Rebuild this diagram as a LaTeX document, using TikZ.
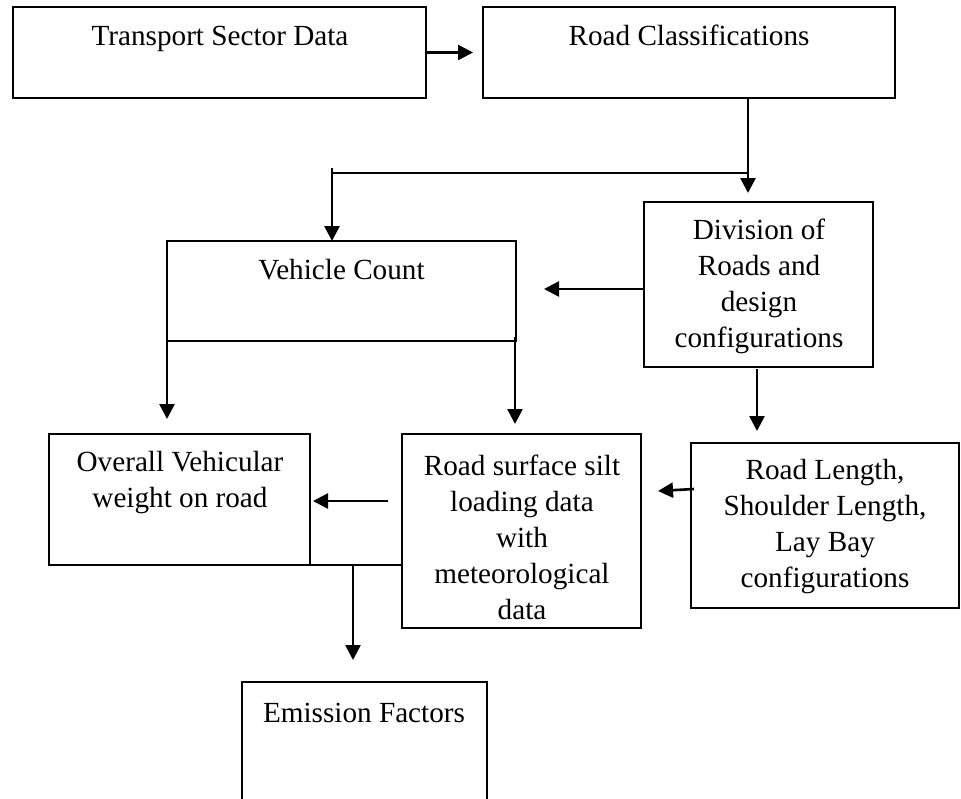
\documentclass[tikz,border=0pt]{standalone}
\usepackage{fontspec}
\setmainfont{Liberation Serif}
\usetikzlibrary{arrows.meta}
\begin{document}
\begin{tikzpicture}[x=1pt,y=-1pt,
  box/.style={draw, line width=1.3pt, inner sep=0pt, outer sep=0pt},
  txt/.style={font=\fontsize{29.2}{36}\selectfont, align=center, inner sep=0pt},
  arr/.style={line width=2.6pt, -{Triangle[length=15pt,width=15pt]}},
  ln/.style={line width=2.6pt}]
\useasboundingbox (0,0) rectangle (961,798);
\clip (0,0) rectangle (961,798);
% boxes
\node[box, minimum width=413pt, minimum height=91pt] (ts) at (219.5,52.5) {};
\node[box, minimum width=412pt, minimum height=91pt] (rc) at (689,52.5) {};
\node[box, minimum width=349pt, minimum height=100pt] (vc) at (341.5,291) {};
\node[box, minimum width=229pt, minimum height=165pt] (div) at (758.5,284.5) {};
\node[box, minimum width=261pt, minimum height=131pt] (ov) at (179.5,499.5) {};
\node[box, minimum width=239pt, minimum height=194pt] (rs) at (521.5,531) {};
\node[box, minimum width=268pt, minimum height=165pt] (rl) at (825,525.5) {};
\node[box, minimum width=245pt, minimum height=148pt] (ef) at (364.5,756) {};
% texts
\node[txt, anchor=base] (tsT) at (220,45) {Transport Sector Data};
\node[txt, anchor=base] (rcT) at (689,45) {Road Classifications};
\node[txt, anchor=base] (vcT) at (341.5,279) {Vehicle Count};
\node[txt] (divT) at (759,286) {Division of\\Roads and\\design\\configurations};
\node[txt] (ovT) at (180,483) {Overall Vehicular\\weight on road};
\node[txt] (rsT) at (522,537) {Road surface silt\\loading data\\with\\meteorological\\data};
\node[txt] (rlT) at (825,527) {Road Length,\\Shoulder Length,\\Lay Bay\\configurations};
\node[txt, anchor=base] (efT) at (364,722) {Emission Factors};
% connectors
\draw[arr, shorten >=10pt] (ts.east) -- (rc.west);
\coordinate (j1) at (748,173);
\coordinate (j2) at (332,173);
\coordinate (j2t) at (332,168);
\draw[arr, shorten >=9pt] (rc.south -| j1) -- (div.north -| j1);
\draw[ln] (j1) -- (j2);
\draw[arr] (j2t) -- (vc.north -| j2t);
\coordinate (t4) at (544,289);
\draw[arr] (div.west |- t4) -- (t4);
\draw[arr, shorten >=15pt] (vc.south west) -- (vc.south west |- ov.north);
\coordinate (c6) at (515,337);
\draw[arr, shorten >=10pt] (c6) -- (rs.north -| c6);
\coordinate (c7) at (757,369);
\draw[arr, shorten >=12pt] (c7) -- (rl.north -| c7);
\coordinate (s8) at (694,489);
\coordinate (t8) at (658,491);
\draw[arr] (s8) -- (t8);
\coordinate (s9) at (388,501);
\coordinate (t9) at (313,501);
\draw[arr] (s9) -- (t9);
\coordinate (j3) at (353,565);
\coordinate (j3l) at (302,565);
\draw[ln] (j3l) -- (rs.west |- j3);
\draw[arr, shorten >=22pt] (j3) -- (ef.north -| j3);
\end{tikzpicture}
\end{document}
